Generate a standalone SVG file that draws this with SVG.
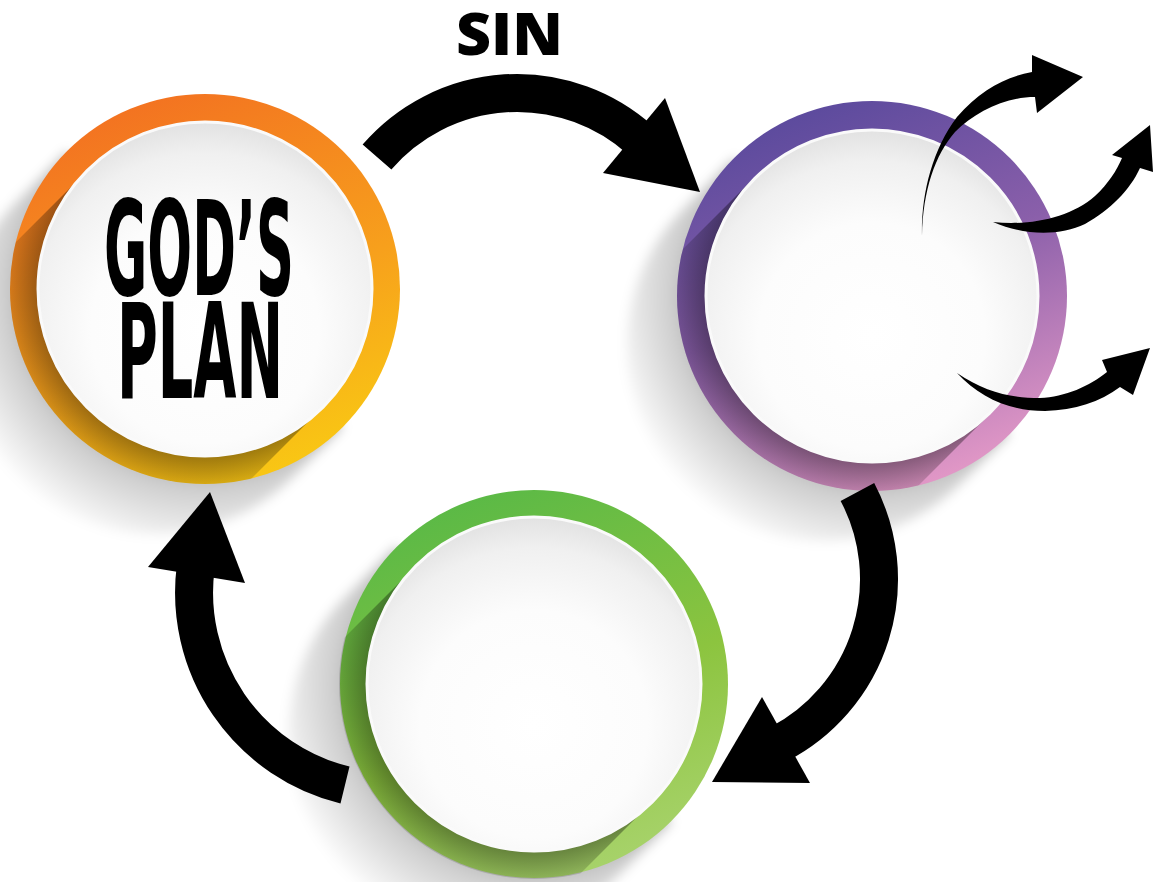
<svg xmlns="http://www.w3.org/2000/svg" width="1153" height="882" viewBox="0 0 1153 882">
<defs>
<style>
.arrow-shaft{fill:none;stroke:#000;stroke-width:38;stroke-linecap:butt}
.arrow-head{fill:#000}
.burst{fill:#000}
.plate{fill:url(#plateGrad);stroke:#FAFAFA;stroke-width:3}
.bgshadow{fill:url(#bgShadowGrad)}
.ringshadow{fill:url(#ringShadowGrad)}
.label-big{font-family:"Liberation Sans Narrow","DejaVu Sans Condensed","Liberation Sans",sans-serif;font-weight:bold;font-size:131px;fill:#000}
.label-sin{font-family:"Open Sans","Liberation Sans",sans-serif;font-weight:800;font-size:59px;fill:#000}
</style>
<linearGradient id="orangeGrad" x1="0.35" y1="0" x2="0.75" y2="1">
<stop offset="0" stop-color="#F37221"/>
<stop offset="0.55" stop-color="#F7A01C"/>
<stop offset="1" stop-color="#F9CB13"/>
</linearGradient>
<linearGradient id="purpleGrad" x1="0.35" y1="0" x2="0.75" y2="1">
<stop offset="0" stop-color="#5B4A9D"/>
<stop offset="0.45" stop-color="#8A5FAA"/>
<stop offset="1" stop-color="#EA9DC9"/>
</linearGradient>
<linearGradient id="greenGrad" x1="0.35" y1="0" x2="0.75" y2="1">
<stop offset="0" stop-color="#5AB946"/>
<stop offset="0.55" stop-color="#8CC43F"/>
<stop offset="1" stop-color="#AAD46F"/>
</linearGradient>
<radialGradient id="plateGrad" cx="0.5" cy="0.62" r="0.62">
<stop offset="0" stop-color="#FFFFFF"/>
<stop offset="0.55" stop-color="#FCFCFC"/>
<stop offset="0.85" stop-color="#F0F0F0"/>
<stop offset="1" stop-color="#E2E2E2"/>
</radialGradient>
<radialGradient id="bgShadowGrad" gradientUnits="userSpaceOnUse" cx="0" cy="0" r="270">
<stop offset="0.70" stop-color="#000" stop-opacity="0.26"/>
<stop offset="0.73" stop-color="#000" stop-opacity="0.2"/>
<stop offset="1" stop-color="#000" stop-opacity="0"/>
</radialGradient>
<radialGradient id="ringShadowGrad" gradientUnits="userSpaceOnUse" cx="0" cy="0" r="195">
<stop offset="0.85" stop-color="#000" stop-opacity="0.38"/>
<stop offset="1" stop-color="#000" stop-opacity="0.14"/>
</radialGradient>
<clipPath id="ringClip"><circle cx="0" cy="0" r="195"/></clipPath>
<filter id="soft" x="-40%" y="-40%" width="180%" height="180%"><feGaussianBlur stdDeviation="6"/></filter>
</defs>
<rect width="1153" height="882" fill="#FFFFFF"/>

<g id="node-gods-plan">
<g transform="translate(205,289)">
<path class="bgshadow" filter="url(#soft)" d="M-138,-138 L-188,-88 A195,195 0 0 0 -188,188 A195,195 0 0 0 88,188 L138,138 Z"/>
<circle r="195" fill="url(#orangeGrad)"/>
<path class="ringshadow" clip-path="url(#ringClip)" d="M-118,-118 L-318,82 L-82,318 L118,118 Z"/>
<circle class="plate" r="167"/>
</g>
<text class="label-big" x="104" y="295" textLength="190" lengthAdjust="spacingAndGlyphs">GOD’S</text>
<text class="label-big" x="117" y="398" textLength="166" lengthAdjust="spacingAndGlyphs">PLAN</text>
</g>

<g id="node-purple">
<g transform="translate(872,296)">
<path class="bgshadow" filter="url(#soft)" d="M-138,-138 L-188,-88 A195,195 0 0 0 -188,188 A195,195 0 0 0 88,188 L138,138 Z"/>
<circle r="195" fill="url(#purpleGrad)"/>
<path class="ringshadow" clip-path="url(#ringClip)" d="M-118,-118 L-318,82 L-82,318 L118,118 Z"/>
<circle class="plate" r="166"/>
</g>
</g>

<g id="node-green">
<g transform="translate(534,684)">
<path class="bgshadow" filter="url(#soft)" d="M-138,-138 L-188,-88 A195,195 0 0 0 -188,188 A195,195 0 0 0 88,188 L138,138 Z"/>
<circle r="194" fill="url(#greenGrad)"/>
<path class="ringshadow" clip-path="url(#ringClip)" d="M-118,-118 L-318,82 L-82,318 L118,118 Z"/>
<circle class="plate" r="167"/>
</g>
</g>

<g id="connectors">
<g id="edge-sin">
<path class="arrow-shaft" d="M377,157 A185,185 0 0 1 640.8,140.5"/>
<polygon class="arrow-head" points="665,98 700,192 603,173"/>
<text class="label-sin" x="456" y="55" textLength="107" lengthAdjust="spacingAndGlyphs">SIN</text>
</g>
<g id="edge-purple-green">
<path class="arrow-shaft" d="M857.4,492 A186,186 0 0 1 778.9,744"/>
<polygon class="arrow-head" points="762,697 712,782 810,783"/>
</g>
<g id="edge-green-orange">
<path class="arrow-shaft" d="M345,785 A198,198 0 0 1 195.7,567.2"/>
<polygon class="arrow-head" points="148,567 210,492 245,583"/>
</g>
</g>

<g id="burst-arrows">
<path class="burst" d="M922,236 C921,195 932,150 957,117 C980,90 1005,77 1032,72 L1032,55 L1083,77 L1037,113 L1035,97 C1005,97 975,112 955,132 C935,155 923,190 922,236 Z"/>
<path class="burst" d="M993,222 C1030,226 1070,218 1095,196 C1108,184 1117,170 1122,158 L1112,155 L1150,125 L1153,172 L1140,168 C1130,190 1110,210 1085,224 C1060,236 1025,236 993,222 Z"/>
<path class="burst" d="M957,373 C985,392 1010,398 1040,398 C1065,397 1090,386 1107,372 L1102,360 L1150,348 L1133,395 L1120,387 C1100,402 1075,410 1045,411 C1010,411 980,398 957,373 Z"/>
</g>
</svg>
